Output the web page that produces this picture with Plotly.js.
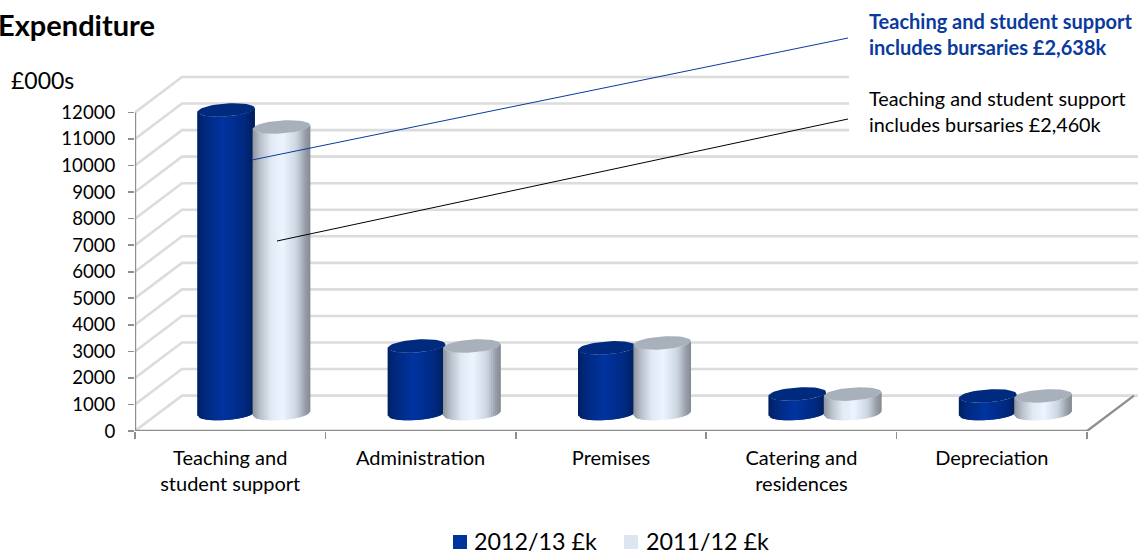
<!DOCTYPE html>
<html>
<head>
<meta charset="utf-8">
<script src="https://cdn.plot.ly/plotly-3.0.1.min.js"></script>
<style>html,body{margin:0;padding:0;background:#fff;overflow:hidden}</style>
</head>
<body>
<div id="chart" style="width:1138px;height:554px"></div>
<script>
// Expenditure by category, £000s
const categories = ['Teaching and<br>student support', 'Administration', 'Premises', 'Catering and<br>residences', 'Depreciation'];
const seriesNames = ['2012/13 £k', '2011/12 £k'];
const values2012 = [11430, 2540, 2470, 735, 660];
const values2011 = [10790, 2540, 2655, 730, 660];
const yTicks = [0, 1000, 2000, 3000, 4000, 5000, 6000, 7000, 8000, 9000, 10000, 11000, 12000];
const noteCurrent = 'Teaching and student support<br>includes bursaries £2,638k';
const notePrior = 'Teaching and student support<br>includes bursaries £2,460k';

const W = 1138, H = 554;
const M = {l: 135, r: 0, t: 70, b: 123, pad: 0, autoexpand: false};
const catPx = 190.4, valPx = 26.55;
const xMax = (W - M.l - M.r) / catPx;
const yMax = (H - M.t - M.b) / valPx * 1000;

// conversions for the annotation layer, from page pixels
const paperX = px => (px - M.l) / (W - M.l - M.r);
const paperY = py => (H - M.b - py) / (H - M.t - M.b);

// oblique projection of the chart box
const depthX = 47 / catPx, depthY = 1333;
const gridColor = '#dcdcdc', axisColor = '#8f8f8f';
const blueSwatch = '#00339c', lightSwatch = '#dce6f2';
const noteBlue = '#0b3a9e';

// cylinder geometry, in axis units
const hw = 28.8 / catPx, ellipse = 245, tilt = 75, baseY = 660, strips = 30;
const blueCentre = 0.478, lightCentre = 0.769;

const blueStops = [[0, [0, 32, 96]], [0.12, [0, 40, 124]], [0.45, [0, 52, 160]], [0.8, [0, 42, 130]], [1, [0, 30, 90]]];
const lightStops = [[0, [142, 148, 156]], [0.14, [186, 194, 204]], [0.32, [224, 233, 244]], [0.52, [236, 245, 255]], [0.76, [204, 214, 226]], [0.92, [150, 157, 166]], [1, [132, 138, 146]]];

function shade(stops, t) {
  for (let i = 1; i < stops.length; i++) {
    if (t <= stops[i][0]) {
      const [a, ca] = stops[i - 1], [b, cb] = stops[i];
      const f = (t - a) / (b - a);
      return 'rgb(' + ca.map((c, k) => Math.round(c + (cb[k] - c) * f)).join(',') + ')';
    }
  }
  return 'rgb(' + stops[stops.length - 1][1].join(',') + ')';
}

const arc = u => -ellipse * Math.sqrt(Math.max(0, 1 - u * u)) + tilt * u;

// one filled trace per gradient step; each step overlaps the next one to hide seams
function cylinderTraces(values, centre, stops, topColor, name) {
  const out = [];
  for (let s = 0; s < strips; s++) {
    const u1 = -1 + 2 * s / strips, u2 = Math.min(1, -1 + 2 * (s + 2) / strips);
    const xs = [], ys = [];
    values.forEach((v, i) => {
      const cx = i + centre;
      const top = baseY + v;
      xs.push(cx + hw * u1, cx + hw * u2, cx + hw * u2, cx + hw * u1, cx + hw * u1, null);
      ys.push(baseY + arc(u1), baseY + arc(u2), top + arc(u2), top + arc(u1), baseY + arc(u1), null);
    });
    out.push({x: xs, y: ys, type: 'scatter', mode: 'lines', fill: 'toself', fillcolor: shade(stops, (s + 0.5) / strips),
      line: {width: 0}, hoverinfo: 'skip', showlegend: false, name});
  }
  const xs = [], ys = [];
  values.forEach((v, i) => {
    const cx = i + centre, top = baseY + v;
    for (let a = 0; a <= 48; a++) {
      const th = a / 48 * 2 * Math.PI;
      const u = Math.cos(th);
      xs.push(cx + hw * u);
      ys.push(top + ellipse * Math.sin(th) + tilt * u);
    }
    xs.push(null); ys.push(null);
  });
  out.push({x: xs, y: ys, type: 'scatter', mode: 'lines', fill: 'toself', fillcolor: topColor,
    line: {width: 0}, hoverinfo: 'skip', showlegend: false, name});
  return out;
}

function lineTrace(x, y, color, width) {
  return {x, y, type: 'scatter', mode: 'lines', line: {color, width}, hoverinfo: 'skip', showlegend: false};
}

// back wall and side wall rules
const gridX = [], gridY = [];
yTicks.forEach(v => {
  gridX.push(0, depthX, xMax, null);
  gridY.push(v, v + depthY, v + depthY, null);
});

const traces = [
  lineTrace(gridX, gridY, gridColor, 2.6),
  ...cylinderTraces(values2012, blueCentre, blueStops, '#002a7e', seriesNames[0]),
  ...cylinderTraces(values2011, lightCentre, lightStops, '#a8b0bb', seriesNames[1]),
  lineTrace([0, 0], [0, 12000], axisColor, 2.4),
  lineTrace([0, 5], [0, 0], axisColor, 2.6),
  lineTrace([5, 5 + depthX], [0, depthY], axisColor, 2.4)
];

const FONT = 'Lato, "Noto Sans", sans-serif';
const textAt = (px, py, text, size, color, bold) => ({
  xref: 'paper', yref: 'paper', x: paperX(px), y: paperY(py), xanchor: 'left', yanchor: 'middle',
  text: bold ? '<b>' + text + '</b>' : text, showarrow: false, align: 'left',
  font: {family: FONT, size, color}, borderpad: 0
});
const box = (x0, y0, x1, y1, fill) => ({type: 'rect', layer: 'above', xref: 'paper', yref: 'paper',
  x0: paperX(x0), x1: paperX(x1), y0: paperY(y1), y1: paperY(y0), fillcolor: fill, line: {width: 0}});
const leader = (x0, y0, x1, y1, color) => ({type: 'line', layer: 'above', xref: 'paper', yref: 'paper',
  x0: paperX(x0), y0: paperY(y0), x1: paperX(x1), y1: paperY(y1), line: {color, width: 1}});

const layout = {
  width: W, height: H, margin: M, paper_bgcolor: '#fff', plot_bgcolor: '#fff',
  font: {family: FONT, color: '#000'}, showlegend: false,
  xaxis: {
    range: [0, xMax], fixedrange: true, showgrid: false, zeroline: false, showline: false,
    tickmode: 'array', tickvals: categories.map((c, i) => i + 0.5), ticktext: categories,
    ticks: '', ticklen: 0, tickangle: 0, ticklabelstandoff: 13, tickfont: {family: FONT, size: 20, color: '#000'},
    minor: {tickmode: 'array', tickvals: [0, 1, 2, 3, 4, 5], ticks: 'outside', ticklen: 7, tickwidth: 1.6, tickcolor: axisColor, showgrid: false}
  },
  yaxis: {
    range: [0, yMax], fixedrange: true, showgrid: false, zeroline: false, showline: false,
    tickmode: 'array', tickvals: yTicks, ticktext: yTicks.map(String),
    ticks: 'outside', ticklen: 6, tickwidth: 1.6, tickcolor: axisColor, ticklabelstandoff: 9,
    tickfont: {family: FONT, size: 18.6, color: '#000'}
  },
  shapes: [
    box(849, 0, 1138, 133, '#fff'),
    leader(252, 160, 848, 38, noteBlue),
    leader(277, 241, 848, 119, '#000'),
    box(453, 535, 467, 549, blueSwatch),
    box(624, 535, 638, 549, lightSwatch)
  ],
  annotations: [
    textAt(-3, 24, 'Expenditure', 29, '#000', true),
    textAt(10, 80, '£000s', 23, '#000', false),
    textAt(868, 34, noteCurrent, 20, noteBlue, true),
    textAt(868, 110.5, notePrior, 19.8, '#000', false),
    textAt(473, 541, seriesNames[0], 23.3, '#000', false),
    textAt(645, 541, seriesNames[1], 23.3, '#000', false)
  ]
};

Plotly.newPlot('chart', traces, layout, {staticPlot: true, displayModeBar: false});
</script>
</body>
</html>
